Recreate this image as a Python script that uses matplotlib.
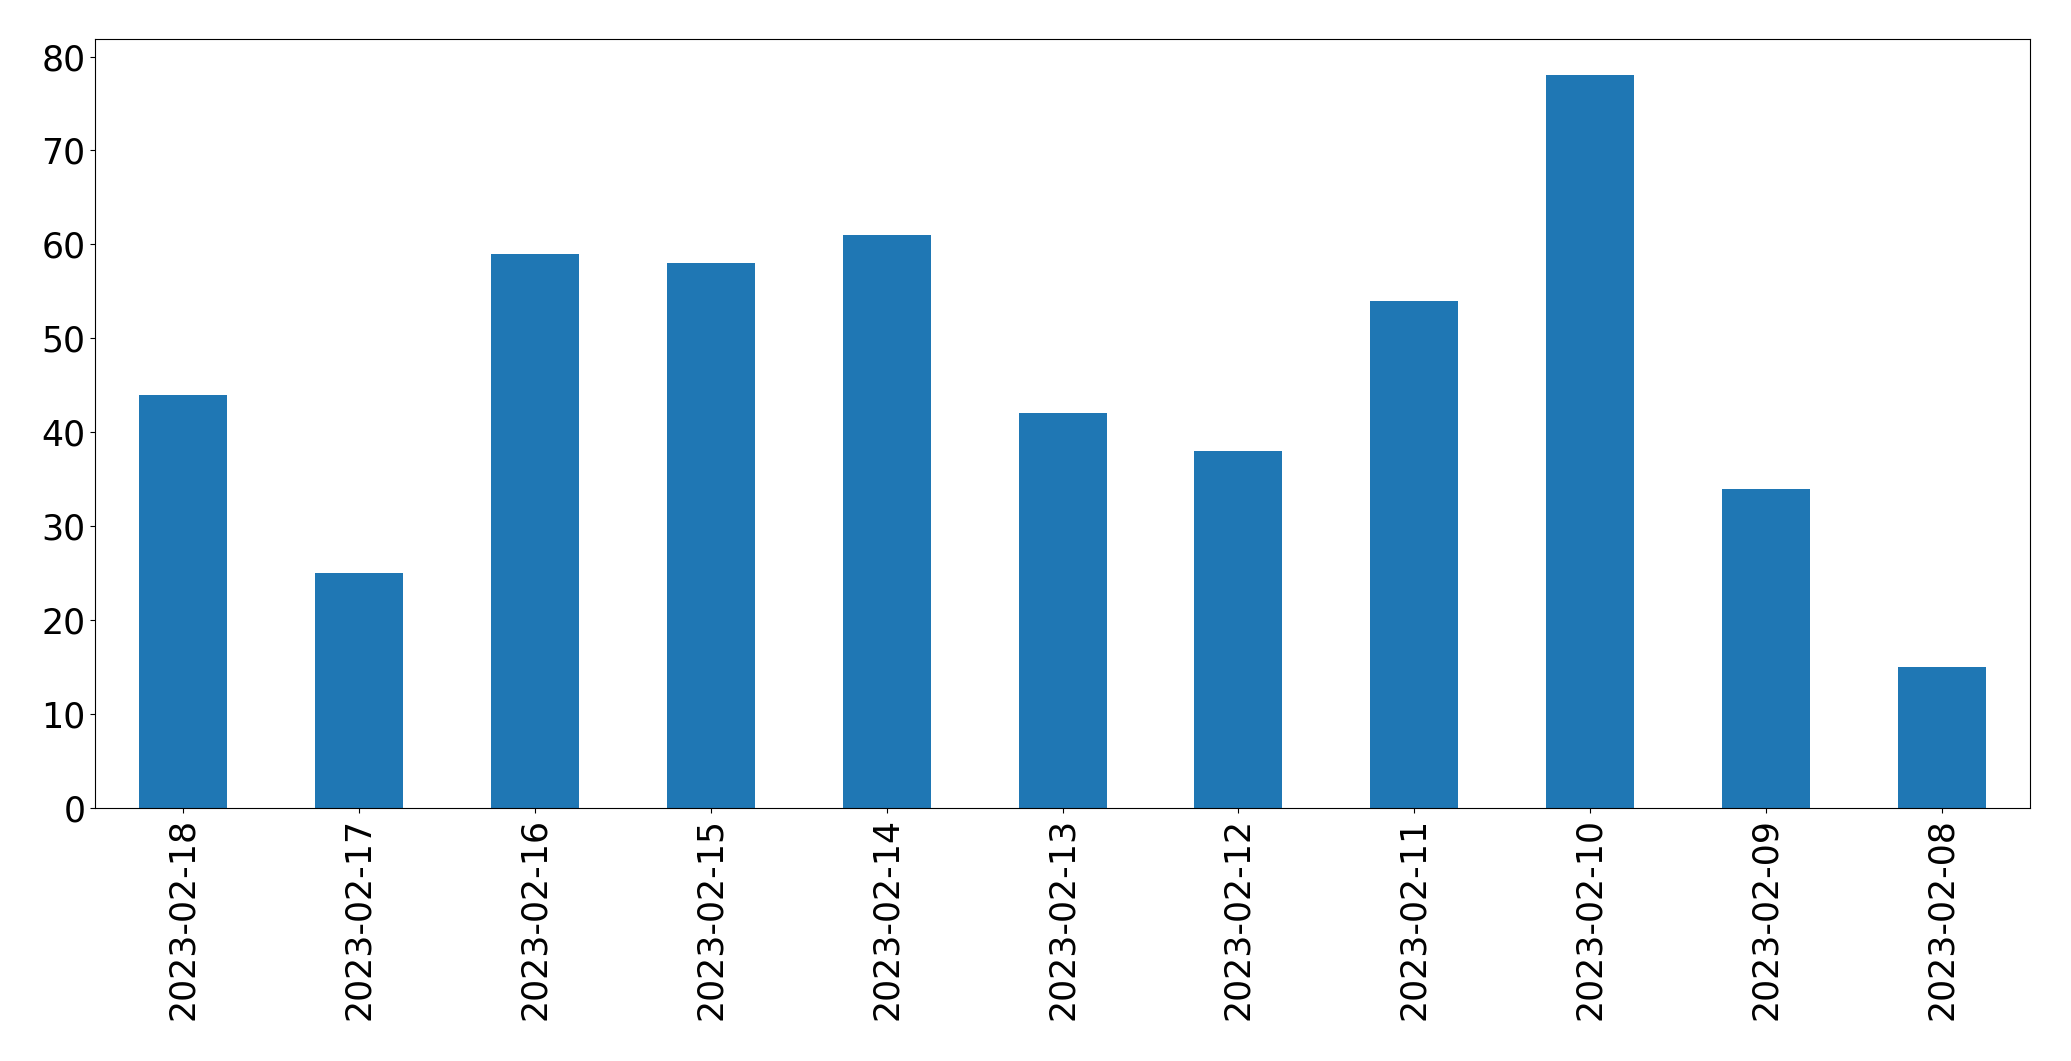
import matplotlib
matplotlib.use("Agg")
import matplotlib.pyplot as plt
import numpy as np

dates = ["2023-02-18", "2023-02-17", "2023-02-16", "2023-02-15", "2023-02-14",
         "2023-02-13", "2023-02-12", "2023-02-11", "2023-02-10", "2023-02-09", "2023-02-08"]
counts = [44, 25, 59, 58, 61, 42, 38, 54, 78, 34, 15]

fig = plt.figure(figsize=(20.71, 10.61), dpi=100)
ax = fig.add_axes([0.0459, 0.2385, 0.9343, 0.7250])
x = np.arange(len(dates))
ax.bar(x, counts, width=0.5, color="#1f77b4")
ax.set_xlim(-0.5, len(dates) - 0.5)
ax.set_ylim(0, max(counts) * 1.05)
ax.set_xticks(x)
ax.set_xticklabels(dates, rotation=90, fontsize=25)
ax.tick_params(axis="y", labelsize=25)
fig.savefig("out.png", dpi=100)
